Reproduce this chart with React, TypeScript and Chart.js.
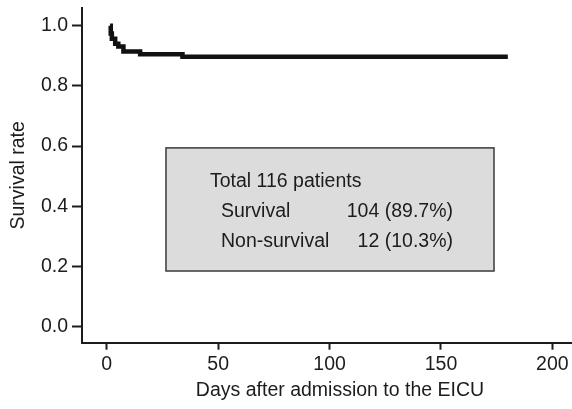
import { useEffect, useRef } from "react";
import { Chart, registerables } from "chart.js";

Chart.register(...registerables);

// Kaplan–Meier style survival curve (days, survival proportion)
const days = [1.5, 1.8, 2.3, 3.8, 5.2, 7.5, 15, 34, 180];
const survival = [1.0, 0.974, 0.957, 0.94, 0.931, 0.914, 0.905, 0.897, 0.897];

const xTicks = [0, 50, 100, 150, 200];
const yTicks = [0, 0.2, 0.4, 0.6, 0.8, 1.0];

const xTitle = "Days after admission to the EICU";
const yTitle = "Survival rate";

const boxLabels = ["Total 116 patients", "Survival", "Non-survival"];
const boxValues = ["", "104 (89.7%)", "12 (10.3%)"];
// box extent in data units
const boxX = [26.6, 173.8];
const boxY = [0.594, 0.185];

const FONT = '"Liberation Sans", Arial, Helvetica, sans-serif';
const FS = 19.5;
const INK = "#1c1c1c";

export default function App() {
  const ref = useRef<HTMLCanvasElement>(null);

  useEffect(() => {
    const canvas = ref.current!;
    const annot = {
      id: "annot",
      afterDatasetsDraw(chart: any) {
        const { ctx, chartArea } = chart;
        const x = chart.scales.x;
        const y = chart.scales.y;
        const left = x.getPixelForValue(boxX[0]);
        const right = x.getPixelForValue(boxX[1]);
        const top = y.getPixelForValue(boxY[0]);
        const bottom = y.getPixelForValue(boxY[1]);
        ctx.save();
        ctx.fillStyle = "#dcdcdc";
        ctx.fillRect(left, top, right - left, bottom - top);
        ctx.strokeStyle = "#3a3a3a";
        ctx.lineWidth = 1.5;
        ctx.strokeRect(left, top, right - left, bottom - top);
        ctx.font = `${FS}px ${FONT}`;
        ctx.fillStyle = INK;
        ctx.textBaseline = "alphabetic";
        ctx.textAlign = "left";
        ctx.fillText(boxLabels[0], left + 44, top + 38.7);
        ctx.fillText(boxLabels[1], left + 55, top + 69.3);
        ctx.fillText(boxLabels[2], left + 55, top + 98.7);
        ctx.textAlign = "right";
        ctx.fillText(boxValues[1], right - 41, top + 69.3);
        ctx.fillText(boxValues[2], right - 41, top + 98.7);
        // x axis title
        ctx.textAlign = "center";
        ctx.fillText(xTitle, (chartArea.left + chartArea.right) / 2 + 13, 396);
        ctx.restore();
      },
    };

    const chart = new Chart(canvas, {
      type: "line",
      data: {
        datasets: [
          {
            data: days.map((d, i) => ({ x: d, y: survival[i] })),
            stepped: "before",
            borderColor: "#111",
            borderWidth: 4.5,
            pointRadius: 0,
            fill: false,
          },
        ],
      },
      options: {
        responsive: false,
        animation: false,
        layout: { padding: { top: 8, left: 0, right: 0, bottom: 0 } },
        plugins: { legend: { display: false }, tooltip: { enabled: false } },
        scales: {
          x: {
            type: "linear",
            min: -11.09,
            max: 208.8,
            afterBuildTicks: (s: any) => {
              s.ticks = xTicks.map((v) => ({ value: v }));
            },
            afterFit: (s: any) => {
              s.height = 66.3;
              s.paddingLeft = 0;
              s.paddingRight = 0;
            },
            grid: {
              drawOnChartArea: false,
              color: INK,
              tickLength: 7,
              tickColor: INK,
              tickWidth: 2,
            },
            border: { color: INK, width: 2 },
            ticks: {
              font: { family: FONT, size: FS },
              color: INK,
              padding: 3,
              maxRotation: 0,
              autoSkip: false,
            },
          },
          y: {
            type: "linear",
            min: -0.0532,
            max: 1.0588,
            afterBuildTicks: (s: any) => {
              s.ticks = yTicks.map((v) => ({ value: v }));
            },
            afterFit: (s: any) => {
              s.width = 82;
              s.paddingTop = 0;
              s.paddingBottom = 0;
            },
            grid: {
              drawOnChartArea: false,
              color: INK,
              tickLength: 10,
              tickColor: INK,
              tickWidth: 2,
            },
            border: { color: INK, width: 2 },
            ticks: {
              font: { family: FONT, size: FS },
              color: INK,
              padding: 4,
              autoSkip: false,
              callback: (v: any) => Number(v).toFixed(1),
            },
            title: {
              display: true,
              text: yTitle,
              font: { family: FONT, size: FS },
              color: INK,
              padding: { top: 7, bottom: 0 },
            },
          },
        },
      },
      plugins: [annot],
    } as any);

    return () => chart.destroy();
  }, []);

  return (
    <div style={{ position: "absolute", left: 0, top: 0, width: 572, height: 409, background: "#fff" }}>
      <canvas ref={ref} width={572} height={409} style={{ display: "block" }} />
    </div>
  );
}
